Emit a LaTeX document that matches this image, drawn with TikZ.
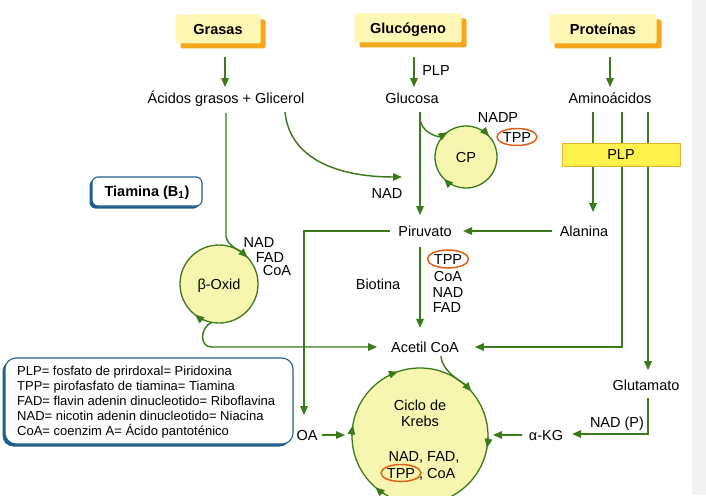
\documentclass[tikz,border=0pt]{standalone}
\usepackage{fontspec}
\setmainfont{Liberation Sans}
\usetikzlibrary{arrows.meta,shapes.geometric,shadows}
\definecolor{gr}{HTML}{3A7A1A}
\definecolor{cycfill}{HTML}{F6F6B0}
\definecolor{boxfill}{HTML}{FFF7B4}
\definecolor{shad}{HTML}{F6A71E}
\definecolor{plpfill}{HTML}{FFF24A}
\definecolor{plpedge}{HTML}{E6B22E}
\definecolor{blu}{HTML}{1F5E8E}
\definecolor{orng}{HTML}{E0601A}
\begin{document}
\begin{tikzpicture}[x=1pt,y=1pt,
  lbl/.style={inner sep=0pt, outer sep=0pt, text height=10.4pt, text depth=0pt,
    font=\fontsize{14.5}{17}\selectfont},
  src/.style={lbl, font=\fontsize{14.5}{17}\selectfont\bfseries, fill=boxfill,
    minimum height=29pt, rounded corners=2pt,
    general shadow={shadow xshift=5pt, shadow yshift=-5pt, fill=shad}},
  bluebox/.style={lbl, font=\fontsize{14.5}{17}\selectfont\bfseries, fill=white,
    draw=blu, line width=1.1pt,
    general shadow={shadow xshift=-2.5pt, shadow yshift=-2.5pt, fill=blu}},
  cyc/.style={lbl, circle, draw=gr, line width=1.3pt, fill=cycfill},
  tpp/.style={lbl, ellipse, draw=orng, line width=1.5pt},
  plpbar/.style={lbl, rectangle, fill=plpfill, draw=plpedge, line width=1pt},
  legtext/.style={inner sep=0pt, anchor=base west, font=\fontsize{13}{15}\selectfont},
  arr/.style={draw=gr, line width=1.45pt, -{Triangle[length=9pt,width=7.5pt]}},
]
\useasboundingbox (0,0) rectangle (706,-495);
\clip (0,0) rectangle (706,-495);
\fill[white] (0,0) rectangle (706,-495);
\fill[black!5] (692,0) rectangle (706,-495);

% source boxes
\node[src, minimum width=85pt] (grasas) at (218,-29) {Grasas};
\node[src, minimum width=107pt] (glucogeno) at (408,-28) {Glucógeno};
\node[src, minimum width=107pt] (proteinas) at (603,-29) {Proteínas};

% labels
\node[lbl] (acidos) at (226,-98) {Ácidos grasos + Glicerol};
\node[lbl] (glucosa) at (412,-98) {Glucosa};
\node[lbl] (amino) at (610,-98) {Aminoácidos};
\node[lbl] (plp1) at (436,-70) {PLP};
\node[lbl] (nadp) at (498,-117) {NADP};
\node[tpp, minimum width=40pt, minimum height=17pt] (tpp1) at (517,-137) {TPP};
\node[cyc, minimum size=62pt] (cp) at (466,-157) {CP};
\node[lbl] (nad1) at (387,-193) {NAD};
\coordinate (nadin) at (402,-177);
\node[lbl] (piruvato) at (425,-231) {Piruvato};
\node[lbl] (alanina) at (584,-231) {Alanina};
\node[cyc, minimum size=78pt] (bo) at (219,-284) {β-Oxid};
\node[lbl] (nad2) at (259,-242) {NAD};
\node[lbl] (fad2) at (270,-257) {FAD};
\node[lbl] (coa2) at (277,-270) {CoA};
\node[lbl] (biotina) at (378,-284) {Biotina};
\node[tpp, minimum width=41pt, minimum height=18pt] (tpp2) at (448,-259) {TPP};
\node[lbl] (coa3) at (448,-276) {CoA};
\node[lbl] (nad3) at (448,-292) {NAD};
\node[lbl] (fad3) at (447,-307) {FAD};
\node[lbl] (acetil) at (425,-347) {Acetil CoA};
\node[lbl] (glutamato) at (646,-385) {Glutamato};
\node[lbl] (nadp2) at (617,-422) {NAD (P)};
\node[lbl] (akg) at (546,-435) {α-KG};
\node[lbl] (oa) at (307,-435) {OA};
\node[cyc, minimum size=136pt] (krebs) at (420,-436) {};
\node[lbl] (ciclo) at (420,-405) {Ciclo de};
\node[lbl] (krebstxt) at (420,-421) {Krebs};
\node[lbl] (nadfad) at (424,-456) {NAD, FAD,};
\node[tpp, minimum width=37pt, minimum height=17pt] (tpp3) at (401,-473) {TPP};
\node[lbl, anchor=west] (coa4) at (419,-473) {, CoA};

% Tiamina and legend
\node[bluebox, minimum width=110pt, minimum height=29pt, rounded corners=6pt] (tiamina) at (147,-191.5) {Tiamina (B\textsubscript{1})};
\node[bluebox, minimum width=288pt, minimum height=86pt, rounded corners=11pt, anchor=north west] (legend) at (5,-358) {};
\node[legtext] (leg1) at (17,-375.6) {PLP= fosfato de prirdoxal= Piridoxina};
\node[legtext] (leg2) at (17,-390.6) {TPP= pirofasfato de tiamina= Tiamina};
\node[legtext] (leg3) at (17,-405.6) {FAD= flavin adenin dinucleotido= Riboflavina};
\node[legtext] (leg4) at (17,-420.6) {NAD= nicotin adenin dinucleotido= Niacina};
\node[legtext] (leg5) at (17,-435.6) {CoA= coenzim A= Ácido pantoténico};

% connectors
\draw[arr, shorten <=13.5pt, shorten >=5.8pt] ([xshift=7pt]grasas.south) -- ([xshift=-1pt]acidos.north);
\draw[arr, shorten <=14.5pt, shorten >=5.8pt] ([xshift=6pt]glucogeno.south) -- ([xshift=2pt]glucosa.north);
\draw[arr, shorten <=13.5pt, shorten >=5.8pt] ([xshift=7pt]proteinas.south) -- (amino.north);

\draw[arr] ([yshift=-10pt]acidos.south) -- ++(0,-123) .. controls +(0.5,-9) and +(-6.5,6) .. (bo.43);
\draw[arr] ([shift={(59pt,-9pt)}]acidos.south) .. controls +(5,-48) and +(-62,0) .. (nadin);

\draw[arr, shorten <=9pt, shorten >=10.75pt] ([xshift=8pt]glucosa.south) -- ([xshift=-5pt]piruvato.north);
\draw[arr] ([shift={(8pt,-14pt)}]glucosa.south) .. controls +(0,-16) and +(-8,-5) .. (cp.127);

\draw[arr, shorten <=9pt, shorten >=13.75pt] ([xshift=-17pt]amino.south) -- ([xshift=9pt]alanina.north);
\draw[arr, shorten <=9pt, shorten >=16pt] ([xshift=12pt]amino.south) |- (acetil.east);
\draw[arr, shorten <=9pt, shorten >=9.75pt] ([xshift=38pt]amino.south) -- ([xshift=2pt]glutamato.north);
\node[plpbar, minimum width=118pt, minimum height=23pt] (plp2) at (621,-154.5) {PLP};

\draw[arr, shorten <=8pt, shorten >=11.4pt] (alanina.west) -- (piruvato.east);
\draw[arr, shorten <=10.75pt, shorten >=14pt] ([xshift=-5pt]piruvato.south) -- ([xshift=-5pt]acetil.north);
\draw[arr, shorten <=8.4pt, shorten >=14.75pt] (piruvato.west) -| ([xshift=-3pt]oa.north);
\draw[arr, shorten <=4.5pt, shorten >=7pt] (oa.east) -- (oa.east -| krebs.west);
\draw[arr, shorten >=14pt] (bo.259) .. controls +(-12,-6) and +(-12,0) .. (bo.259 |- acetil.west) -- (acetil.west);
\draw[arr] ([xshift=16pt, yshift=-4pt]acetil.south) .. controls +(1,-16) and +(-6.6,7.5) .. (krebs.41);
\draw[arr, shorten <=7pt, shorten >=5pt] (akg.west) -- (akg.west -| krebs.east);
\draw[arr, shorten <=7.75pt, shorten >=9pt] ([xshift=2pt]glutamato.south) |- ([yshift=1pt]akg.east);

% cycle arrows (clockwise)
\foreach \s/\e in {60/42, 243/225}
  \draw[arr] ([shift={(\s:31)}]cp.center) arc[start angle=\s, end angle=\e, radius=31];
\foreach \s/\e in {247/232}
  \draw[arr] ([shift={(\s:39)}]bo.center) arc[start angle=\s, end angle=\e, radius=39];
\foreach \s/\e in {118/109, -1/-10, 238/229, 180/171}
  \draw[arr] ([shift={(\s:68)}]krebs.center) arc[start angle=\s, end angle=\e, radius=68];
\end{tikzpicture}
\end{document}
